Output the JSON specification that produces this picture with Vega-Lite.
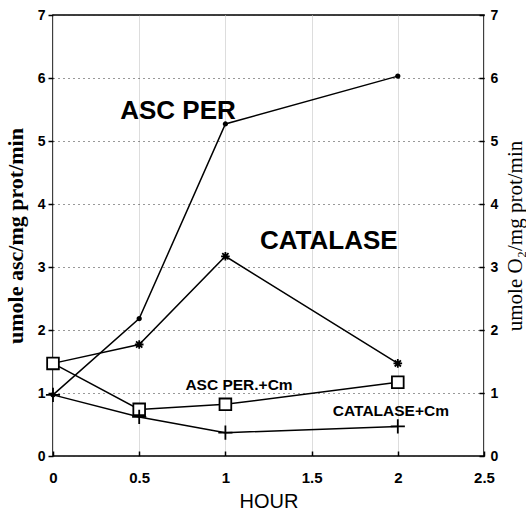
{
  "$schema": "https://vega.github.io/schema/vega-lite/v6.json",
  "width": 431,
  "height": 441,
  "autosize": {"type": "none"},
  "padding": {"left": 53, "top": 15, "right": 42, "bottom": 56},
  "background": "white",
  "config": {
    "view": {"stroke": "black", "strokeWidth": 1.5},
    "font": "Liberation Sans",
    "axis": {
      "domain": false,
      "tickColor": "black",
      "tickWidth": 1.5,
      "labelColor": "black",
      "labelFont": "Liberation Sans",
      "labelFontWeight": "bold",
      "labelFlush": false,
      "labelOverlap": false,
      "labelBound": false,
      "titleColor": "black"
    }
  },
  "datasets": {
    "series": [
      {"series": "ASC PER", "hour": 0, "value": 0.97},
      {"series": "ASC PER", "hour": 0.5, "value": 2.18},
      {"series": "ASC PER", "hour": 1, "value": 5.27},
      {"series": "ASC PER", "hour": 2, "value": 6.03},
      {"series": "CATALASE", "hour": 0, "value": 1.47},
      {"series": "CATALASE", "hour": 0.5, "value": 1.77},
      {"series": "CATALASE", "hour": 1, "value": 3.17},
      {"series": "CATALASE", "hour": 2, "value": 1.47},
      {"series": "ASC PER+Cm", "hour": 0, "value": 1.47},
      {"series": "ASC PER+Cm", "hour": 0.5, "value": 0.74},
      {"series": "ASC PER+Cm", "hour": 1, "value": 0.82},
      {"series": "ASC PER+Cm", "hour": 2, "value": 1.17},
      {"series": "CATALASE+Cm", "hour": 0, "value": 0.97},
      {"series": "CATALASE+Cm", "hour": 0.5, "value": 0.62},
      {"series": "CATALASE+Cm", "hour": 1, "value": 0.37},
      {"series": "CATALASE+Cm", "hour": 2, "value": 0.47}
    ],
    "labels": [
      {"label": "ASC PER", "kind": "big", "hour": 0.725, "value": 5.48},
      {"label": "CATALASE", "kind": "big", "hour": 1.6, "value": 3.42},
      {"label": "ASC PER.+Cm", "kind": "small", "hour": 1.079, "value": 1.13},
      {"label": "CATALASE+Cm", "kind": "small", "hour": 1.96, "value": 0.72}
    ]
  },
  "layer": [
    {
      "data": {"name": "series"},
      "mark": {"type": "line", "color": "black", "strokeWidth": 1.5},
      "encoding": {
        "x": {
          "field": "hour", "type": "quantitative",
          "scale": {"domain": [0, 2.5]},
          "axis": {
            "values": [0, 0.5, 1, 1.5, 2, 2.5],
            "format": "~g",
            "tickSize": -5,
            "labelFontSize": 15,
            "labelPadding": 19,
            "title": "HOUR",
            "titleFont": "Liberation Sans",
            "titleFontSize": 20,
            "titleFontWeight": "normal",
            "titlePadding": 6
          }
        },
        "y": {
          "field": "value", "type": "quantitative",
          "scale": {"domain": [0, 7]},
          "axis": {
            "orient": "left",
            "values": [0, 1, 2, 3, 4, 5, 6, 7],
            "tickSize": 5,
            "labelFontSize": 14,
            "labelPadding": 3,
            "grid": true,
            "gridColor": "#333",
            "gridDash": [1, 4],
            "gridWidth": 1,
            "title": "umole asc/mg prot/min",
            "titleFont": "Liberation Serif",
            "titleFontSize": 22,
            "titleFontWeight": "bold",
            "titlePadding": 10
          }
        },
        "detail": {"field": "series"}
      }
    },
    {
      "data": {"name": "series"},
      "mark": {"type": "point", "filled": true, "stroke": "black", "strokeWidth": 1.8, "opacity": 1},
      "encoding": {
        "x": {"field": "hour", "type": "quantitative", "scale": {"domain": [0, 2.5]}},
        "y": {"field": "value", "type": "quantitative", "scale": {"domain": [0, 7]}, "axis": null},
        "shape": {
          "field": "series", "type": "nominal", "legend": null,
          "scale": {
            "domain": ["ASC PER", "CATALASE", "ASC PER+Cm", "CATALASE+Cm"],
            "range": ["circle", "M-1,0L1,0M0,-1L0,1M-0.72,-0.72L0.72,0.72M-0.72,0.72L0.72,-0.72", "square", "M-1,0L1,0M0,-1L0,1"]
          }
        },
        "fill": {
          "field": "series", "type": "nominal", "legend": null,
          "scale": {
            "domain": ["ASC PER", "CATALASE", "ASC PER+Cm", "CATALASE+Cm"],
            "range": ["black", "black", "white", "black"]
          }
        },
        "size": {
          "field": "series", "type": "nominal", "legend": null,
          "scale": {
            "domain": ["ASC PER", "CATALASE", "ASC PER+Cm", "CATALASE+Cm"],
            "range": [12, 200, 70, 140]
          }
        }
      }
    },
    {
      "data": {"name": "labels"},
      "mark": {"type": "text", "font": "Liberation Sans", "fontWeight": "bold", "color": "black", "align": "center", "baseline": "middle"},
      "encoding": {
        "x": {"field": "hour", "type": "quantitative", "scale": {"domain": [0, 2.5]}},
        "y": {
          "field": "value", "type": "quantitative",
          "scale": {"domain": [0, 7]},
          "axis": {
            "orient": "right",
            "values": [0, 1, 2, 3, 4, 5, 6, 7],
            "tickSize": -5,
            "labelFontSize": 14,
            "labelPadding": 11,
            "grid": false,
            "title": "umole O₂/mg prot/min",
            "titleFont": "Liberation Serif",
            "titleFontSize": 21,
            "titleFontWeight": "normal",
            "titleAngle": 270,
            "titleBaseline": "top",
            "titlePadding": 7
          }
        },
        "text": {"field": "label"},
        "size": {
          "field": "kind", "type": "ordinal", "legend": null,
          "scale": {"domain": ["big", "small"], "range": [26, 15.5]}
        }
      }
    }
  ],
  "resolve": {"scale": {"y": "independent", "size": "independent", "shape": "independent"}}
}
